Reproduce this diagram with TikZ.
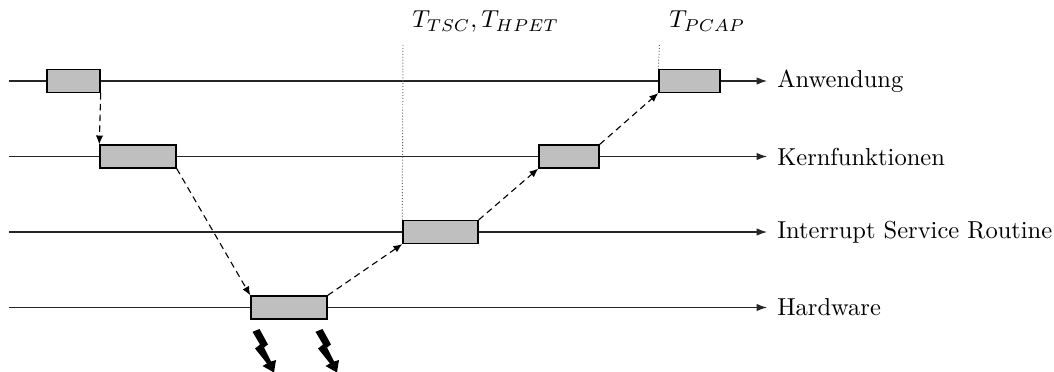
\documentclass[tikz,border=0pt]{standalone}
\usetikzlibrary{arrows.meta}
\begin{document}
\begin{tikzpicture}[x=0.408pt,y=-0.408pt,
  lane/.style={line width=0.45pt, draw=black!85, -{Latex[length=4.2pt,width=3pt]}},
  task/.style={draw=black, line width=0.6pt, fill=black!25, inner sep=0pt, minimum height=9.3pt},
  flow/.style={line width=0.45pt, dash pattern=on 2.6pt off 1.8pt, -{Latex[length=3.6pt,width=3pt]}},
  stamp/.style={line width=0.4pt, draw=black!60, dash pattern=on 0.4pt off 0.8pt},
  layer/.style={anchor=west, inner xsep=4pt, inner ysep=0pt},
  tlabel/.style={anchor=base west, inner sep=0pt},
  bolt/.style={fill=black}]
\useasboundingbox (0,0) rectangle (1054,372);

% layer labels and time lines
\node[layer] (lA) at (767,81)    {Anwendung};
\node[layer] (lK) at (767,156.5) {Kernfunktionen};
\node[layer] (lI) at (767,232)   {Interrupt Service Routine};
\node[layer] (lH) at (767,307.5) {Hardware};
\coordinate (sA) at (9,81);
\coordinate (sK) at (9,156.5);
\coordinate (sI) at (9,232);
\coordinate (sH) at (9,307.5);
\draw[lane] (sA) -- (lA);
\draw[lane] (sK) -- (lK);
\draw[lane] (sI) -- (lI);
\draw[lane] (sH) -- (lH);

% processing steps
\node[task, minimum width=21.6pt] (b1)  at (73.5,81)    {};
\node[task, minimum width=31pt]   (b2)  at (138,156.5)  {};
\node[task, minimum width=31pt]   (hw)  at (289,307.5)  {};
\node[task, minimum width=30.6pt] (isr) at (440.5,232)  {};
\node[task, minimum width=24.5pt] (k2)  at (569,156.5)  {};
\node[task, minimum width=24.9pt] (a2)  at (689.5,81)   {};

% timestamp markers
\coordinate (d1) at (403,45);
\coordinate (d2) at (659.5,45);
\draw[stamp] (d1) -- (isr.north west);
\draw[stamp] (d2) -- (a2.north west);
\node[tlabel] (t1) at (412,28) {$T_{TSC}, T_{HPET}$};
\node[tlabel] (t2) at (669,28) {$T_{PCAP}$};

% control flow
\draw[flow] (b1.south east) -- (b2.north west);
\draw[flow] (b2.south east) -- (hw.north west);
\draw[flow] (hw.north east) -- (isr.south west);
\draw[flow] (isr.north east) -- (k2.south west);
\draw[flow] (k2.north east) -- (a2.south west);

% interrupt signals
\foreach \bx in {245,308}{
  \fill[bolt, shift={(\bx,325)}]
    (7.5,6.8) -- (14.5,4) -- (23,19.5) -- (19,22.5) -- (26,36.5)
    -- (31,35) -- (29,47.5) -- (17.5,41) -- (22,38.5) -- (10,23.5)
    -- (15,19.5) -- cycle;
}
\end{tikzpicture}
\end{document}
